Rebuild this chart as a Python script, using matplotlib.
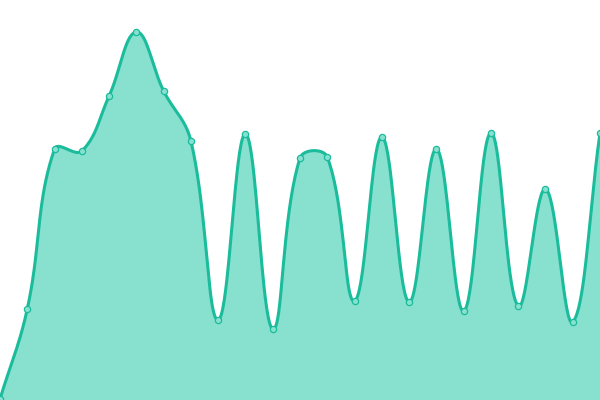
import numpy as np
import matplotlib
matplotlib.use("Agg")
import matplotlib.pyplot as plt

# values (0 = bottom, 400 = top)
values = [1, 91, 251, 249, 304, 368, 309, 259, 80, 266, 71, 242,
          243, 99, 263, 98, 251, 89, 267, 94, 211, 78, 267]
x = np.arange(len(values)) * 600 / (len(values) - 1)
y = np.array(values, dtype=float)

line_color = "#1abc9c"
fill_color = "#88e0cf"
tension = 0.4


def spline(xs, ys, n=40):
    # bezier control points like a tension spline, spacing by distance
    n_pts = len(xs)
    cp_prev = np.zeros((n_pts, 2))
    cp_next = np.zeros((n_pts, 2))
    for i in range(n_pts):
        cur = np.array([xs[i], ys[i]])
        prev = np.array([xs[max(i - 1, 0)], ys[max(i - 1, 0)]])
        nxt = np.array([xs[min(i + 1, n_pts - 1)], ys[min(i + 1, n_pts - 1)]])
        d01 = np.hypot(*(cur - prev))
        d12 = np.hypot(*(nxt - cur))
        tot = d01 + d12
        fa = tension * d01 / tot if tot else 0
        fb = tension * d12 / tot if tot else 0
        cp_prev[i] = cur - fa * (nxt - prev)
        cp_next[i] = cur + fb * (nxt - prev)
    # keep control points inside the plot area
    cp_prev[:, 1] = np.clip(cp_prev[:, 1], 0, 400)
    cp_next[:, 1] = np.clip(cp_next[:, 1], 0, 400)
    t = np.linspace(0, 1, n, endpoint=False)[:, None]
    out = []
    for i in range(n_pts - 1):
        p0 = np.array([xs[i], ys[i]])
        p3 = np.array([xs[i + 1], ys[i + 1]])
        p1, p2 = cp_next[i], cp_prev[i + 1]
        seg = ((1 - t) ** 3 * p0 + 3 * (1 - t) ** 2 * t * p1
               + 3 * (1 - t) * t ** 2 * p2 + t ** 3 * p3)
        out.append(seg)
    out.append(np.array([[xs[-1], ys[-1]]]))
    out = np.vstack(out)
    return out[:, 0], out[:, 1]


sx, sy = spline(x, y)

fig = plt.figure(figsize=(6, 4), dpi=100)
ax = fig.add_axes([0, 0, 1, 1])
ax.fill_between(sx, 0, sy, color=fill_color, linewidth=0)
ax.plot(sx, sy, color=line_color, linewidth=2.2, solid_capstyle="round")
ax.plot(x, y, "o", markersize=4.5, markerfacecolor=fill_color,
        markeredgecolor=line_color, markeredgewidth=0.9)
ax.set_xlim(0, 600)
ax.set_ylim(0, 400)
ax.axis("off")
fig.savefig("out.png", dpi=100)
